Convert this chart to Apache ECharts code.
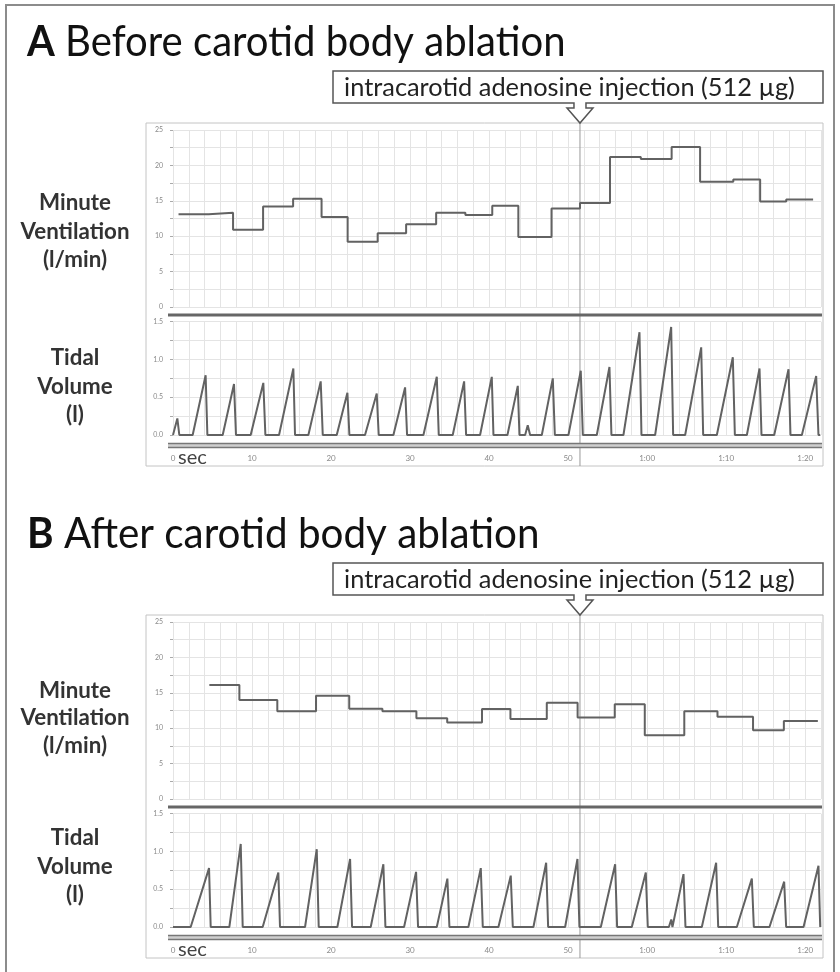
<!DOCTYPE html>
<html><head><meta charset="utf-8">
<script src="https://cdn.jsdelivr.net/npm/echarts@6/dist/echarts.min.js"></script>
<style>html,body{margin:0;padding:0;background:#fff}#c{width:840px;height:972px}</style>
</head><body><div id="c"></div>
<script>
// ---------------- data ----------------
const xTickLabels = ['0', '10', '20', '30', '40', '50', '1:00', '1:10', '1:20'];
const xUnit = 'sec';
const injectionTime = 51.5;           // s
const traceEnd = 81.9;                // s

// Panel A – Minute ventilation steps (edges in s, values in l/min)
const mvAEdges  = [0.7, 4.5, 7.6, 11.4, 15.2, 18.8, 22.1, 25.9, 29.5, 33.3, 37.0, 40.4, 43.7, 47.9, 51.5, 55.3, 59.2, 63.1, 66.7, 70.9, 74.3, 77.6, 81.0];
const mvAValues = [13.1, 13.3, 10.9, 14.2, 15.3, 12.7, 9.2, 10.4, 11.7, 13.3, 13.0, 14.3, 9.9, 13.9, 14.7, 21.2, 20.9, 22.6, 17.7, 18.0, 14.9, 15.2];

// Panel A – Tidal volume breaths
const tvAStart = [0.04, 2.49, 6.29, 9.83, 13.42, 17.13, 20.72, 24.3, 27.89, 31.69, 35.4, 38.86, 42.32, 44.56, 46.67, 50.04, 53.63, 57.0, 61.01, 64.81, 68.82, 72.62, 76.08, 79.58];
const tvAPeakT = [0.55, 4.13, 7.72, 11.43, 15.23, 18.69, 22.07, 25.78, 29.37, 33.38, 36.84, 40.34, 43.63, 44.89, 48.06, 51.6, 55.23, 59.03, 63.04, 66.84, 70.84, 74.22, 77.89, 81.39];
const tvAPeakV = [0.22, 0.79, 0.675, 0.69, 0.88, 0.71, 0.56, 0.55, 0.63, 0.77, 0.71, 0.77, 0.65, 0.13, 0.75, 0.85, 0.90, 1.36, 1.43, 1.16, 1.03, 0.88, 0.87, 0.78];
const tvAEnd   = [0.8, 4.35, 7.97, 11.69, 15.44, 18.95, 22.32, 26.03, 29.62, 33.63, 37.09, 40.55, 43.84, 45.19, 48.32, 51.86, 55.48, 59.28, 63.29, 67.09, 71.1, 74.47, 78.14, 81.68];

// Panel B – Minute ventilation steps
const mvBEdges  = [4.6, 8.4, 13.2, 18.1, 22.3, 26.5, 30.8, 34.7, 39.1, 42.7, 47.3, 51.2, 55.9, 59.7, 64.7, 68.9, 73.4, 77.3, 81.6];
const mvBValues = [16.1, 14.0, 12.4, 14.6, 12.75, 12.4, 11.4, 10.8, 12.7, 11.3, 13.6, 11.5, 13.4, 9.0, 12.4, 11.6, 9.7, 11.0];

// Panel B – Tidal volume breaths
const tvBStart = [2.24, 7.13, 11.35, 16.71, 20.8, 25.02, 29.24, 33.38, 37.38, 41.18, 45.61, 49.62, 54.14, 58.06, 62.75, 63.2, 66.92, 71.35, 75.48, 79.79];
const tvBPeakT = [4.56, 8.57, 13.33, 18.19, 22.41, 26.62, 30.76, 34.72, 38.95, 42.74, 47.22, 51.18, 55.95, 59.83, 63.05, 64.6, 68.73, 73.25, 77.34, 81.68];
const tvBPeakV = [0.78, 1.10, 0.72, 1.03, 0.90, 0.83, 0.73, 0.64, 0.78, 0.68, 0.85, 0.90, 0.83, 0.72, 0.10, 0.70, 0.85, 0.64, 0.60, 0.81];
const tvBEnd   = [4.77, 8.82, 13.54, 18.44, 22.66, 26.88, 31.01, 34.98, 39.2, 43.0, 47.47, 51.43, 56.2, 60.08, 63.2, 64.85, 68.99, 73.5, 77.59, 81.9];

const titles = ['Before carotid body ablation', 'After carotid body ablation'];
const panelLetters = ['A', 'B'];
const annotationText = 'intracarotid adenosine injection (512 µg)';
const mvLabel = ['Minute', 'Ventilation', '(l/min)'];
const tvLabel = ['Tidal', 'Volume', '(l)'];

// ---------------- helpers ----------------
function stepPts(edges, vals) {
  const p = [];
  for (let i = 0; i < vals.length; i++) { p.push([edges[i], vals[i]]); p.push([edges[i + 1], vals[i]]); }
  return p;
}
function breathPts(st, pt, pv, en) {
  const p = [[0, 0]];
  for (let i = 0; i < st.length; i++) { p.push([st[i], 0]); p.push([pt[i], pv[i]]); p.push([en[i], 0]); }
  p.push([traceEnd, 0]);
  return p;
}
const FAM = 'Lato, "Open Sans", sans-serif';
const mctx = document.createElement('canvas').getContext('2d');
function measure(text, weight, size) {
  mctx.font = weight + ' ' + size + 'px ' + FAM;
  return mctx.measureText(text).width;
}
function fit(text, weight, targetW) { return 100 * targetW / measure(text, weight, 100); }

const DY = 492;
const gridL = 173, gridR = 840 - 821;
const gridTops = [130, 321.7, 130 + DY, 321.7 + DY];
const gridH = [177, 113.3, 177, 113.3];

const traceStyle = { color: '#626262', width: 2 };
const splitStyle = { color: '#e4e4e4', width: 1 };

function isMult(v, m) { return Math.abs(v / m - Math.round(v / m)) < 1e-6; }

const option = {
  animation: false,
  backgroundColor: '#fff',
  grid: gridTops.map((t, i) => ({ left: gridL, right: gridR, top: t, height: gridH[i] })),
  xAxis: [0, 1, 2, 3].map(i => ({
    type: 'value', gridIndex: i, min: 0, max: 82, interval: 2,
    axisLine: { show: false }, axisTick: { show: false },
    splitLine: { show: true, lineStyle: splitStyle },
    axisLabel: {
      show: i % 2 === 1, margin: 19, fontSize: 8, color: '#8a8a8a', fontFamily: FAM,
      formatter: v => isMult(v, 10) ? (xTickLabels[Math.round(v / 10)] || '') : ''
    }
  })),
  yAxis: [0, 1, 2, 3].map(i => {
    const mv = i % 2 === 0;
    return {
      type: 'value', gridIndex: i, min: 0, max: mv ? 25 : 1.5, interval: mv ? 2.5 : 0.25,
      offset: 6,
      axisLine: { show: false },
      axisTick: { show: true, length: 3, lineStyle: { color: '#aaa' } },
      splitLine: { show: true, lineStyle: splitStyle },
      axisLabel: {
        margin: 4, fontSize: 7, color: '#8a8a8a', fontFamily: FAM,
        formatter: v => mv ? (isMult(v, 5) ? String(Math.round(v)) : '') : (isMult(v, 0.5) ? v.toFixed(1) : '')
      }
    };
  }),
  series: [
    { type: 'line', xAxisIndex: 0, yAxisIndex: 0, data: stepPts(mvAEdges, mvAValues) },
    { type: 'line', xAxisIndex: 1, yAxisIndex: 1, data: breathPts(tvAStart, tvAPeakT, tvAPeakV, tvAEnd) },
    { type: 'line', xAxisIndex: 2, yAxisIndex: 2, data: stepPts(mvBEdges, mvBValues) },
    { type: 'line', xAxisIndex: 3, yAxisIndex: 3, data: breathPts(tvBStart, tvBPeakT, tvBPeakV, tvBEnd) }
  ].map(s => Object.assign(s, { showSymbol: false, symbol: 'none', lineStyle: traceStyle, silent: true, z: 5 }))
};

const chart = echarts.init(document.getElementById('c'), null, { renderer: 'canvas' });
chart.setOption(option);

const px = chart.convertToPixel({ xAxisIndex: 0 }, injectionTime);

// text sizing (target widths measured on the reference)
const TITLE_FS = 42;
const annFs = fit(annotationText, 'normal', 451);
const lblFs = fit('Ventilation', 'bold', 109);
const labelRows = [
  { mv: [203, 232, 260], tv: [358, 387, 415] },
  { mv: [691, 718, 746], tv: [838, 867, 895] }
];

function panel(k) {
  const dy = k * DY;
  const g = [];
  g.push({ type: 'rect', silent: true, z: 1, shape: { x: 146, y: 123 + dy, width: 677, height: 343 }, style: { fill: 'none', stroke: '#c4c4c4', lineWidth: 1 } });
  g.push({ type: 'line', silent: true, z: 6, shape: { x1: 168, y1: 315 + dy, x2: 822, y2: 315 + dy }, style: { stroke: '#666', lineWidth: 3 } });
  g.push({ type: 'rect', silent: true, z: 6, shape: { x: 168, y: 443.5 + dy, width: 654, height: 4 }, style: { fill: '#cfcfcf' } });
  g.push({ type: 'line', silent: true, z: 6, shape: { x1: 168, y1: 443.5 + dy, x2: 822, y2: 443.5 + dy }, style: { stroke: '#777', lineWidth: 1.5 } });
  g.push({ type: 'line', silent: true, z: 6, shape: { x1: 168, y1: 447.5 + dy, x2: 822, y2: 447.5 + dy }, style: { stroke: '#777', lineWidth: 1.5 } });
  g.push({ type: 'line', silent: true, z: 4, shape: { x1: px, y1: 123 + dy, x2: px, y2: 466 + dy }, style: { stroke: '#9a9a9a', lineWidth: 1 } });
  g.push({ type: 'text', silent: true, z: 8, style: { x: 178, y: 458 + dy, text: xUnit, fontFamily: FAM, fontSize: 20, fill: '#444', textVerticalAlign: 'middle' } });
  const bt = 71 + dy, bb = 103 + dy;
  g.push({ type: 'polygon', silent: true, z: 7, shape: { points: [
    [333, bt], [823, bt], [823, bb], [px + 6, bb], [px + 6, bb + 5], [px + 13, bb + 5], [px, bb + 20],
    [px - 13, bb + 5], [px - 6, bb + 5], [px - 6, bb], [333, bb]] },
    style: { fill: '#fff', stroke: '#555', lineWidth: 1.5 } });
  g.push({ type: 'text', silent: true, z: 8, style: { x: 569.5, y: 87.5 + dy, text: annotationText, fontFamily: FAM, fontSize: annFs, fill: '#222', textAlign: 'center', textVerticalAlign: 'middle' } });
  const wA = measure(panelLetters[k] + ' ', 'bold', TITLE_FS);
  const wT = measure(titles[k], 'normal', TITLE_FS);
  const targetW = k === 0 ? 538 : 512;
  const sx = targetW / (wA + wT);
  g.push({ type: 'text', silent: true, z: 8, x: 27, y: 42 + dy, scaleX: sx, style: { x: 0, y: 0, text: '{b|' + panelLetters[k] + '} ' + titles[k], fontFamily: FAM, fontSize: TITLE_FS, fill: '#111', textVerticalAlign: 'middle',
    rich: { b: { fontWeight: 'bold', fontFamily: FAM, fontSize: TITLE_FS, fill: '#111' } } } });
  const rows = labelRows[k];
  mvLabel.forEach((t, i) => g.push({ type: 'text', silent: true, z: 8, style: { x: 75, y: rows.mv[i], text: t, fontFamily: FAM, fontWeight: 'bold', fontSize: lblFs, fill: '#333', textAlign: 'center', textVerticalAlign: 'middle' } }));
  tvLabel.forEach((t, i) => g.push({ type: 'text', silent: true, z: 8, style: { x: 75, y: rows.tv[i], text: t, fontFamily: FAM, fontWeight: 'bold', fontSize: lblFs, fill: '#333', textAlign: 'center', textVerticalAlign: 'middle' } }));
  return g;
}

const graphics = [
  { type: 'rect', silent: true, z: 1, shape: { x: 6, y: 5, width: 828, height: 990 }, style: { fill: 'none', stroke: '#8c8c8c', lineWidth: 2 } }
].concat(panel(0), panel(1));

chart.setOption({ graphic: { elements: graphics } });
</script>
</body></html>
